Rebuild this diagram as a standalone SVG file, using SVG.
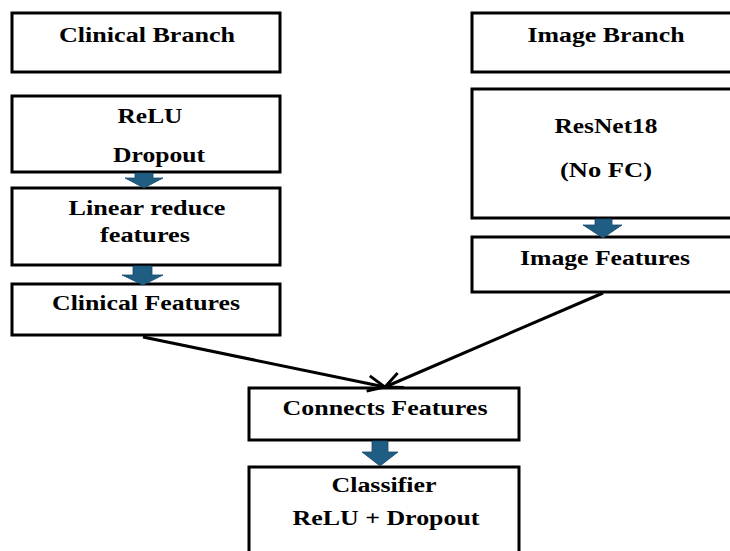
<svg xmlns="http://www.w3.org/2000/svg" width="730" height="551" viewBox="0 0 730 551">
<style>
.box{fill:#fff;stroke:#000;stroke-width:3}
.t{font-family:"Liberation Serif","Times New Roman",serif;font-weight:bold;font-size:20px;fill:#000;text-anchor:middle}
.blk{fill:#1f5d82;stroke:#17496a;stroke-width:0.8}
.ln{fill:none;stroke:#000;stroke-width:3}
</style>
<defs>
<marker id="v" viewBox="0 0 14 14" refX="13" refY="7" markerWidth="20" markerHeight="20" markerUnits="userSpaceOnUse" orient="auto">
<path d="M1,1.5 L13,7 L1,12.5" fill="none" stroke="#000" stroke-width="2"/>
</marker>
</defs>
<rect width="730" height="551" fill="#fff"/>
<g id="clinical-branch"><rect class="box" x="12" y="13" width="268" height="59"/><text class="t" x="147" y="42" textLength="176" lengthAdjust="spacingAndGlyphs">Clinical Branch</text></g>
<g id="relu-dropout"><rect class="box" x="12" y="96" width="268" height="76"/><text class="t" x="150" y="123" textLength="65" lengthAdjust="spacingAndGlyphs">ReLU</text><text class="t" x="159" y="162" textLength="92" lengthAdjust="spacingAndGlyphs">Dropout</text></g>
<g id="linear-reduce"><rect class="box" x="12" y="188" width="268" height="77"/><text class="t" x="147" y="215" textLength="157" lengthAdjust="spacingAndGlyphs">Linear reduce</text><text class="t" x="145" y="242" textLength="90" lengthAdjust="spacingAndGlyphs">features</text></g>
<g id="clinical-features"><rect class="box" x="12" y="284" width="268" height="51"/><text class="t" x="146" y="310" textLength="188" lengthAdjust="spacingAndGlyphs">Clinical Features</text></g>
<g id="image-branch"><rect class="box" x="472" y="13" width="270" height="59"/><text class="t" x="606" y="42" textLength="157" lengthAdjust="spacingAndGlyphs">Image Branch</text></g>
<g id="resnet18"><rect class="box" x="472" y="89" width="270" height="129"/><text class="t" x="606" y="133" textLength="103" lengthAdjust="spacingAndGlyphs">ResNet18</text><text class="t" x="606" y="177" textLength="92" lengthAdjust="spacingAndGlyphs">(No FC)</text></g>
<g id="image-features"><rect class="box" x="472" y="237" width="270" height="55"/><text class="t" x="605" y="265" textLength="170" lengthAdjust="spacingAndGlyphs">Image Features</text></g>
<g id="connects-features"><rect class="box" x="249" y="388" width="270" height="52"/><text class="t" x="385" y="415" textLength="205" lengthAdjust="spacingAndGlyphs">Connects Features</text></g>
<g id="classifier"><rect class="box" x="249" y="467" width="270" height="100"/><text class="t" x="384" y="492" textLength="105" lengthAdjust="spacingAndGlyphs">Classifier</text><text class="t" x="386" y="525" textLength="187" lengthAdjust="spacingAndGlyphs">ReLU + Dropout</text></g>
<g id="connectors">
<polygon class="blk" points="135,173 153,173 153,178 163,178 144,188 125,178 135,178"/>
<polygon class="blk" points="133,266 152,266 152,275 163,275 143,285 122,275 133,275"/>
<polygon class="blk" points="595,219 612,219 612,225 622,225 603,238 583,225 595,225"/>
<polygon class="blk" points="372,441 388,441 388,452 398,452 380,466 362,452 372,452"/>
<line class="ln" x1="143" y1="337" x2="385" y2="387" marker-end="url(#v)"/>
<line class="ln" x1="603" y1="293" x2="385" y2="387" marker-end="url(#v)"/>
</g>
</svg>
